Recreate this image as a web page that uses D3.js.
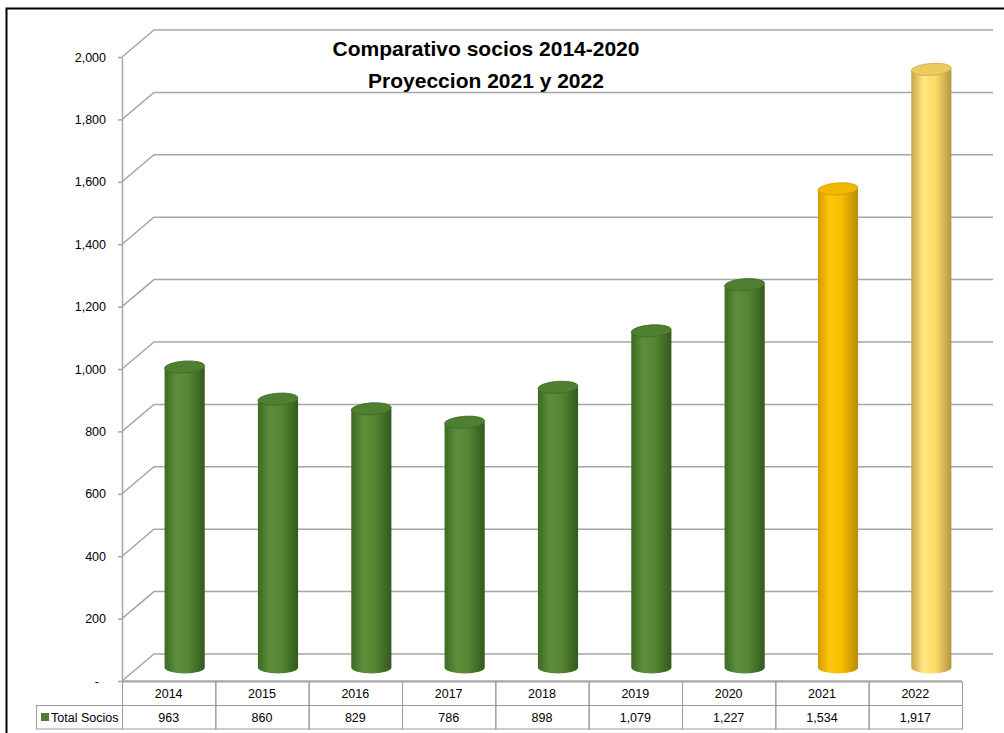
<!DOCTYPE html>
<html>
<head>
    <meta charset="utf-8">
    <title>Comparativo socios</title>
    <script src="https://cdnjs.cloudflare.com/ajax/libs/d3/7.8.5/d3.min.js"></script>
    <style>
        body {
            margin: 0;
            background: white;
            font-family: "Liberation Sans", Arial, sans-serif;
        }
        #chart {
            width: 1004px;
            height: 733px;
        }
        .grid {
            fill: none;
            stroke: #a6a6a6;
            stroke-width: 1.5;
        }
        .cell {
            fill: none;
            stroke: #9a9a9a;
            stroke-width: 1;
        }
    </style>
</head>
<body>
    <div id="chart"></div>

    <script>
        // datos
        const years = ["2014", "2015", "2016", "2017", "2018", "2019", "2020", "2021", "2022"];
        const socios = [963, 860, 829, 786, 898, 1079, 1227, 1534, 1917];
        const yTicks = [0, 200, 400, 600, 800, 1000, 1200, 1400, 1600, 1800, 2000];
        const seriesName = "Total Socios";
        const titleLines = ["Comparativo socios 2014-2020", "Proyeccion 2021 y 2022"];

        const width = 1004;
        const height = 733;
        const depth = { dx: 32, dy: -27 }; // desplazamiento de la pared del fondo
        const backRight = 993;

        const svg = d3.select("#chart")
            .append("svg")
            .attr("width", width)
            .attr("height", height);

        // marco exterior (solo se ve arriba y a la izquierda)
        svg.append("rect")
            .attr("x", 6.5).attr("y", 8.5)
            .attr("width", 1010).attr("height", 740)
            .attr("fill", "none")
            .attr("stroke", "#000")
            .attr("stroke-width", 2);

        const x = d3.scaleBand()
            .domain(years)
            .range([122, 962])
            .padding(0);

        const y = d3.scaleLinear()
            .domain([0, 2000])
            .range([681, 57]);

        // rejilla: diagonal desde el eje frontal y linea horizontal en el fondo
        svg.append("g")
            .selectAll("path")
            .data(yTicks)
            .join("path")
            .attr("class", "grid")
            .attr("d", d => {
                const yy = y(d);
                return `M${x.range()[0]},${yy} L${x.range()[0] + depth.dx},${yy + depth.dy} L${backRight},${yy + depth.dy}`;
            });

        // eje vertical
        const fmt = d3.format(",");
        const axis = svg.append("g")
            .attr("transform", `translate(${x.range()[0]},0)`)
            .call(d3.axisLeft(y)
                .tickValues(yTicks)
                .tickSize(4)
                .tickSizeOuter(0)
                .tickPadding(12)
                .tickFormat(d => d === 0 ? "-" : fmt(d)));
        axis.select(".domain").attr("stroke", "#a6a6a6").attr("stroke-width", 1.5);
        axis.selectAll(".tick line").attr("stroke", "#a6a6a6").attr("stroke-width", 1.5);
        axis.selectAll(".tick text")
            .attr("fill", "#000")
            .attr("font-size", 12.5)
            .attr("font-family", "Liberation Sans, Arial, sans-serif")
            .attr("dx", d => d === 0 ? -7 : 0);

        // linea frontal del suelo
        svg.append("line")
            .attr("x1", x.range()[0]).attr("x2", x.range()[1])
            .attr("y1", y(0)).attr("y2", y(0))
            .attr("stroke", "#a6a6a6").attr("stroke-width", 1.5);

        // gradientes de los cilindros
        const palettes = {
            green: { edgeL: "#3c6a22", mid: "#5d8f3b", mid2: "#548532", edgeR: "#33591c", top: "#4f7f30", topStroke: "#3f6a25" },
            gold: { edgeL: "#d29c00", mid: "#ffc70a", mid2: "#f7bd00", edgeR: "#b98a00", top: "#f2b500", topStroke: "#cf9d00" },
            light: { edgeL: "#c7a64a", mid: "#ffe680", mid2: "#fbdc68", edgeR: "#b59442", top: "#ecca5c", topStroke: "#c9a84a" }
        };
        const paletteOf = (d, i) => d === "2021" ? "gold" : d === "2022" ? "light" : "green";

        const defs = svg.append("defs");
        Object.entries(palettes).forEach(([key, p]) => {
            const g = defs.append("linearGradient")
                .attr("id", "cyl-" + key)
                .attr("x1", "0%").attr("x2", "100%")
                .attr("y1", "0%").attr("y2", "0%");
            g.append("stop").attr("offset", "0%").attr("stop-color", p.edgeL);
            g.append("stop").attr("offset", "30%").attr("stop-color", p.mid);
            g.append("stop").attr("offset", "60%").attr("stop-color", p.mid2);
            g.append("stop").attr("offset", "100%").attr("stop-color", p.edgeR);
        });

        const cylW = x.bandwidth() * 0.43;
        const rx = cylW / 2;
        const ry = 6;
        const bars = years.map((yr, i) => ({ year: yr, value: socios[i], pal: palettes[paletteOf(yr, i)], key: paletteOf(yr, i) }));

        const cyl = svg.append("g")
            .selectAll("g")
            .data(bars)
            .join("g")
            .attr("transform", `translate(${depth.dx / 2},${depth.dy / 2})`);

        cyl.append("path")
            .attr("fill", d => `url(#cyl-${d.key})`)
            .attr("d", d => {
                const cx = x(d.year) + x.bandwidth() / 2;
                const x0 = cx - rx, x1 = cx + rx;
                const yt = y(d.value), yb = y(0);
                return `M${x0},${yt} L${x0},${yb} A${rx},${ry} 0 0 0 ${x1},${yb} L${x1},${yt} Z`;
            });

        cyl.append("ellipse")
            .attr("cx", d => x(d.year) + x.bandwidth() / 2)
            .attr("cy", d => y(d.value))
            .attr("rx", rx)
            .attr("ry", ry)
            .attr("transform", d => `rotate(-4,${x(d.year) + x.bandwidth() / 2},${y(d.value)})`)
            .attr("fill", d => d.pal.top)
            .attr("stroke", d => d.pal.topStroke)
            .attr("stroke-width", 0.8);

        // tabla de datos
        const row1 = { top: 682, bottom: 705.5 };
        const row2 = { top: 705.5, bottom: 729 };
        const legendLeft = 36;

        const table = svg.append("g");
        table.selectAll("rect.c1")
            .data(years)
            .join("rect")
            .attr("class", "cell")
            .attr("x", d => x(d) + 0.5)
            .attr("y", row1.top)
            .attr("width", x.bandwidth())
            .attr("height", row1.bottom - row1.top);
        table.selectAll("rect.c2")
            .data(years)
            .join("rect")
            .attr("class", "cell")
            .attr("x", d => x(d) + 0.5)
            .attr("y", row2.top)
            .attr("width", x.bandwidth())
            .attr("height", row2.bottom - row2.top);
        table.append("rect")
            .attr("class", "cell")
            .attr("x", legendLeft + 0.5)
            .attr("y", row2.top)
            .attr("width", x.range()[0] - legendLeft)
            .attr("height", row2.bottom - row2.top);

        table.selectAll("text.yr")
            .data(years)
            .join("text")
            .attr("x", d => x(d) + x.bandwidth() / 2)
            .attr("y", (row1.top + row1.bottom) / 2 + 4.5)
            .attr("text-anchor", "middle")
            .attr("font-size", 12.5)
            .text(d => d);
        table.selectAll("text.val")
            .data(bars)
            .join("text")
            .attr("x", d => x(d.year) + x.bandwidth() / 2)
            .attr("y", (row2.top + row2.bottom) / 2 + 4.5)
            .attr("text-anchor", "middle")
            .attr("font-size", 12.5)
            .text(d => fmt(d.value));

        table.append("rect")
            .attr("x", 41).attr("y", 713)
            .attr("width", 8).attr("height", 8)
            .attr("fill", "#4f7f30");
        table.append("text")
            .attr("x", 51)
            .attr("y", (row2.top + row2.bottom) / 2 + 4.5)
            .attr("font-size", 12.5)
            .text(seriesName);

        // titulo
        svg.append("g")
            .selectAll("text")
            .data(titleLines)
            .join("text")
            .attr("x", 486)
            .attr("y", (d, i) => 56 + i * 32)
            .attr("text-anchor", "middle")
            .attr("font-size", 21)
            .attr("font-weight", "bold")
            .text(d => d);
    </script>
</body>
</html>
